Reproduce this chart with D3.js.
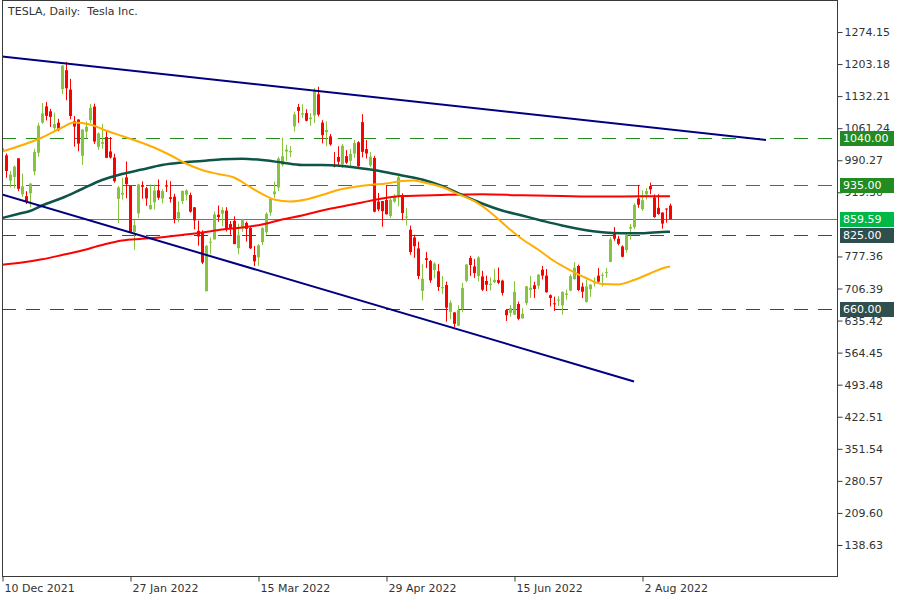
<!DOCTYPE html>
<html>
<head>
<meta charset="utf-8">
<script src="https://cdn.jsdelivr.net/npm/d3@7/dist/d3.min.js"></script>
<style>
  html, body { margin: 0; padding: 0; background: #ffffff; }
  svg { display: block; }
  text { font-family: "DejaVu Sans", sans-serif; }
</style>
</head>
<body>
<svg id="chart" width="900" height="600"></svg>
<script>
// ---------------- DATA ----------------
const title = "TESLA, Daily:  Tesla Inc.";

const dates = [
  "2021-12-10","2021-12-13","2021-12-14","2021-12-15","2021-12-16","2021-12-17","2021-12-20","2021-12-21","2021-12-22","2021-12-23",
  "2021-12-27","2021-12-28","2021-12-29","2021-12-30","2021-12-31",
  "2022-01-03","2022-01-04","2022-01-05","2022-01-06","2022-01-07","2022-01-10","2022-01-11","2022-01-12","2022-01-13","2022-01-14",
  "2022-01-18","2022-01-19","2022-01-20","2022-01-21","2022-01-24","2022-01-25","2022-01-26","2022-01-27","2022-01-28","2022-01-31",
  "2022-02-01","2022-02-02","2022-02-03","2022-02-04","2022-02-07","2022-02-08","2022-02-09","2022-02-10","2022-02-11","2022-02-14",
  "2022-02-15","2022-02-16","2022-02-17","2022-02-18","2022-02-22","2022-02-23","2022-02-24","2022-02-25","2022-02-28",
  "2022-03-01","2022-03-02","2022-03-03","2022-03-04","2022-03-07","2022-03-08","2022-03-09","2022-03-10","2022-03-11","2022-03-14",
  "2022-03-15","2022-03-16","2022-03-17","2022-03-18","2022-03-21","2022-03-22","2022-03-23","2022-03-24","2022-03-25","2022-03-28",
  "2022-03-29","2022-03-30","2022-03-31",
  "2022-04-01","2022-04-04","2022-04-05","2022-04-06","2022-04-07","2022-04-08","2022-04-11","2022-04-12","2022-04-13","2022-04-14",
  "2022-04-18","2022-04-19","2022-04-20","2022-04-21","2022-04-22","2022-04-25","2022-04-26","2022-04-27","2022-04-28","2022-04-29",
  "2022-05-02","2022-05-03","2022-05-04","2022-05-05","2022-05-06","2022-05-09","2022-05-10","2022-05-11","2022-05-12","2022-05-13",
  "2022-05-16","2022-05-17","2022-05-18","2022-05-19","2022-05-20","2022-05-23","2022-05-24","2022-05-25","2022-05-26","2022-05-27",
  "2022-05-31",
  "2022-06-01","2022-06-02","2022-06-03","2022-06-06","2022-06-07","2022-06-08","2022-06-09","2022-06-10","2022-06-13","2022-06-14",
  "2022-06-15","2022-06-16","2022-06-17","2022-06-21","2022-06-22","2022-06-23","2022-06-24","2022-06-27","2022-06-28","2022-06-29",
  "2022-06-30",
  "2022-07-01","2022-07-05","2022-07-06","2022-07-07","2022-07-08","2022-07-11","2022-07-12","2022-07-13","2022-07-14","2022-07-15",
  "2022-07-18","2022-07-19","2022-07-20","2022-07-21","2022-07-22","2022-07-25","2022-07-26","2022-07-27","2022-07-28","2022-07-29",
  "2022-08-01","2022-08-02","2022-08-03","2022-08-04","2022-08-05","2022-08-08","2022-08-09","2022-08-10","2022-08-11"
];

const open = [
  1008.8,1001.1,945.0,953.2,994.5,914.8,910.7,916.9,965.7,1006.8,
  1073.7,1109.5,1098.6,1061.3,1073.4,
  1147.8,1189.6,1146.7,1077.0,1080.4,1000.0,1053.7,1078.9,1109.1,1019.9,
  1026.6,1041.7,1009.7,996.3,904.8,914.2,952.4,933.4,831.6,872.7,
  935.2,928.2,882.0,897.2,923.8,905.5,935.0,908.4,909.6,861.6,
  900.0,914.1,913.3,886.0,834.1,830.4,700.4,809.2,815.0,
  869.7,872.1,878.8,849.1,856.3,795.5,839.5,851.5,840.2,780.6,
  775.3,809.0,831.0,874.5,915.0,930.0,979.9,1009.7,1008.0,1065.1,
  1108.0,1091.2,1094.6,
  1081.2,1089.4,1136.3,1073.5,1052.4,1043.2,980.4,997.6,981.1,999.3,
  989.0,1005.1,1030.0,1074.7,1014.9,979.0,995.4,898.6,900.0,902.3,
  867.0,898.6,912.2,909.0,865.5,836.5,819.3,795.2,701.0,773.5,
  767.2,747.4,744.5,707.0,714.0,655.0,653.5,623.9,661.4,723.3,
  773.8,
  755.2,734.0,733.1,723.0,713.9,720.3,724.9,723.8,658.5,652.6,
  648.6,672.0,640.3,674.0,703.2,713.6,712.4,748.1,735.0,691.5,
  673.5,
  681.0,669.0,692.3,701.8,727.0,756.3,710.5,676.5,704.7,720.0,
  734.8,735.0,740.4,765.3,828.7,816.7,799.5,791.5,839.1,842.1,
  905.7,882.0,915.0,933.0,908.0,885.0,874.5,883.4,889.9
];
const high = [
  1021.0,1005.0,966.4,978.8,995.0,960.7,921.7,939.5,1015.7,1073.0,
  1117.0,1119.0,1104.0,1095.6,1082.0,
  1201.1,1208.0,1170.3,1088.0,1080.9,1059.1,1075.9,1114.8,1115.6,1052.0,
  1070.8,1054.7,1041.7,1004.6,933.5,951.3,987.7,935.4,857.5,938.0,
  943.7,931.5,937.0,936.5,947.8,926.3,946.3,943.8,916.0,898.9,
  923.0,926.4,918.5,886.9,856.7,835.3,802.5,819.5,876.9,
  889.9,886.5,886.4,855.7,866.1,850.0,860.6,854.5,843.8,800.7,
  805.0,842.0,875.0,907.9,942.9,997.9,1040.7,1024.5,1021.8,1097.9,
  1114.8,1114.0,1103.1,
  1094.8,1149.9,1152.9,1079.0,1076.6,1048.4,1008.5,1021.2,1026.2,1012.7,
  1014.9,1034.9,1032.5,1092.2,1034.9,1008.6,1000.0,918.0,900.0,934.4,
  906.0,915.0,955.5,917.0,885.0,845.6,825.4,809.8,759.7,787.4,
  769.8,764.5,760.5,734.0,721.6,680.0,653.9,669.3,718.7,759.8,
  778.8,
  772.0,777.9,745.6,734.7,731.0,750.0,752.8,725.9,659.3,670.0,
  722.7,677.2,662.9,712.0,734.6,721.3,738.2,756.2,749.5,693.5,
  688.4,
  689.4,699.4,703.7,737.8,764.8,759.2,719.3,726.2,716.0,730.9,
  751.6,741.4,752.0,819.8,842.4,822.8,801.9,827.8,849.2,895.0,
  935.6,923.5,928.7,940.8,914.6,915.0,875.0,883.5,894.4
];
const low = [
  982.5,951.4,930.0,928.3,921.9,909.0,893.4,886.1,957.1,997.6,
  1070.7,1078.4,1064.1,1053.2,1054.6,
  1136.7,1123.1,1081.0,1020.5,1010.0,980.0,1038.8,1072.6,1026.5,1013.4,
  1016.1,995.0,994.0,940.5,851.5,903.2,906.0,829.0,792.0,862.1,
  905.0,889.4,880.5,881.2,902.7,894.8,920.0,896.7,850.7,853.2,
  893.4,901.2,874.1,837.6,801.1,760.6,700.0,782.4,814.7,
  853.8,844.3,832.6,825.2,804.6,782.2,832.0,810.4,793.8,756.0,
  756.6,802.3,825.7,867.4,907.1,921.8,976.4,988.8,997.3,1053.6,
  1073.1,1084.0,1076.6,
  1066.6,1072.5,1087.3,1027.7,1021.5,1022.4,974.6,976.6,973.1,982.2,
  973.4,995.3,975.5,996.4,994.0,975.3,875.0,877.4,843.1,870.0,
  862.4,896.4,888.4,857.5,846.3,781.2,774.3,727.2,680.0,751.6,
  719.1,728.9,700.8,694.1,633.0,638.1,620.6,623.0,653.7,720.5,
  734.2,
  730.0,722.0,700.8,700.9,702.2,718.0,716.0,690.8,634.4,643.8,
  648.0,636.0,639.6,669.8,685.6,685.3,705.5,726.2,697.3,666.8,
  656.7,
  667.5,648.5,681.6,700.2,726.1,700.9,685.1,675.1,688.0,710.7,
  718.8,710.9,730.5,764.6,812.1,802.3,775.5,785.4,814.6,837.6,
  885.0,878.0,903.5,915.0,863.0,869.6,838.7,852.1,859.3
];
const close = [
  1017.0,966.4,958.5,976.0,926.9,932.6,899.9,938.5,1008.9,1067.0,
  1093.9,1088.5,1086.2,1070.3,1056.8,
  1199.8,1149.6,1088.1,1064.7,1027.0,1058.1,1064.4,1106.2,1031.6,1049.6,
  1030.5,995.7,996.3,943.9,930.0,918.4,937.4,829.1,846.4,936.7,
  931.3,905.7,891.1,923.3,907.3,922.0,932.0,904.6,860.0,875.8,
  922.4,923.4,876.4,857.0,821.5,764.0,800.8,809.9,870.4,
  864.4,879.9,839.3,838.3,804.6,824.4,859.0,838.3,795.4,766.4,
  801.9,840.2,871.6,905.4,921.2,994.0,999.1,1013.9,1010.6,1091.8,
  1099.6,1094.0,1077.6,
  1084.6,1145.5,1091.3,1045.8,1057.3,1025.5,975.9,987.0,1022.4,985.0,
  1004.3,1028.2,977.2,1008.8,1005.1,998.0,876.4,881.5,877.5,870.8,
  902.9,909.3,952.6,873.3,865.7,787.1,800.0,734.0,728.0,769.6,
  724.4,761.6,709.8,709.4,663.9,674.9,628.2,658.8,707.7,759.6,
  758.3,
  740.4,775.0,703.6,714.8,716.7,725.6,719.1,696.7,647.2,662.7,
  699.0,639.3,650.3,711.1,708.3,705.2,737.1,734.8,698.0,685.5,
  673.4,
  681.8,699.2,695.2,733.6,752.3,703.0,699.2,711.1,714.9,720.2,
  721.6,736.6,742.5,815.1,816.7,805.3,776.6,824.5,842.7,891.5,
  891.8,901.8,922.2,925.9,864.5,871.3,850.0,883.1,859.6
];

// Moving averages at bar indices
const maSlowIdx = [0,10,15,18,22,26,30,34,38,42,46,50,54,58,62,65,68,72,76,80,84,88,92,96,100,103,106,110,114,118,122,126,130,134,138,142,146,150,154,158,162,165,167];
const maSlowVal = [1009.6,1040.6,1062.8,1073.8,1069.4,1056.1,1043.9,1031.8,1018.5,1001.9,983.1,968.7,959.8,952.1,931.1,915.6,903.4,899.0,903.4,913.4,924.4,931.1,935.5,938.8,944.3,945.4,939.9,931.1,915.6,900.1,875.7,844.7,816.0,792.7,767.3,747.3,729.6,716.3,715.3,725.2,739.6,750.7,755.1];

const maMidIdx = [0,4,7,10,15,20,25,30,35,40,45,50,55,60,65,70,75,80,85,90,95,100,105,110,115,120,125,130,135,140,145,150,155,160,165,167];
const maMidVal = [862.4,871.3,877.9,890.1,906.7,926.6,946.5,959.8,969.8,979.8,985.3,988.6,992.4,993.5,990.8,985.3,979.8,979.8,977.5,972.0,965.4,956.5,947.7,933.3,913.4,894.5,879.0,868.0,856.5,845.8,837.0,830.8,828.6,828.6,831.5,832.1];

const maLongIdx = [0,5,10,15,20,25,30,35,40,45,50,55,60,65,70,75,80,85,90,95,100,105,110,120,130,140,150,160,167];
const maLongVal = [759.1,763.9,771.0,780.5,790.5,802.7,812.6,816.4,819.7,824.8,830.3,837.0,841.4,848.0,859.1,868.0,879.0,887.9,896.8,905.6,911.1,912.2,913.4,914.9,912.7,911.1,910.0,910.5,910.5];

// Trend lines (bar index, price)
const upperTrendIdx = [0, 191];
const upperTrendVal = [1219.9, 1035.1];
const lowerTrendIdx = [0, 158];
const lowerTrendVal = [914.5, 500.5];

// Horizontal levels
const levelValues = [1040.00, 935.00, 825.00, 660.00];
const levelKinds  = ["res", "res", "sup", "sup"];
const lastPrice = 859.59;

// Axis ticks (848.33 is fully covered by the price boxes in the reference)
const priceTicks = [1274.15,1203.18,1132.21,1061.24,990.27,919.30,777.36,706.39,635.42,564.45,493.48,422.51,351.54,280.57,209.60,138.63];
const dateTickIdx = [0, 32, 64, 96, 128, 160];
const dateTickLabels = ["10 Dec 2021","27 Jan 2022","15 Mar 2022","29 Apr 2022","15 Jun 2022","2 Aug 2022"];

// ---------------- CHART ----------------
const svg = d3.select("#chart");
const plot = { left: 2, right: 837, top: 0, bottom: 576 };

const x = d3.scaleLinear().domain([0, 167]).range([2, 670]);
const y = d3.scaleLinear().domain([70.0, 1340.55]).range([576, 2]);

const colors = {
  up: "#86c440", down: "#ff0000",
  maSlow: "#ffae00", maMid: "#0e5548", maLong: "#ff0000",
  trend: "#000080", res: "#228b22", sup: "#2f4f4f",
  lastLine: "#22a845", lastBox: "#00b848", frame: "#3a3a3a", text: "#333333"
};

svg.append("defs").append("clipPath").attr("id", "clip")
  .append("rect").attr("x", plot.left).attr("y", plot.top)
  .attr("width", plot.right - plot.left).attr("height", plot.bottom - plot.top);

const g = svg.append("g").attr("clip-path", "url(#clip)");

// last price line
g.append("line")
  .attr("x1", plot.left).attr("x2", plot.right)
  .attr("y1", Math.round(y(lastPrice)) + 0.5).attr("y2", Math.round(y(lastPrice)) + 0.5)
  .attr("stroke", colors.lastLine).attr("stroke-width", 1);

// horizontal levels
levelValues.forEach((v, k) => {
  g.append("line")
    .attr("x1", plot.left).attr("x2", plot.right)
    .attr("y1", Math.round(y(v)) + 0.5).attr("y2", Math.round(y(v)) + 0.5)
    .attr("stroke", colors[levelKinds[k]]).attr("stroke-width", 1)
    .attr("stroke-dasharray", "14,10");
});

// candles
const bars = d3.range(dates.length).map(i => ({ i, o: open[i], h: high[i], l: low[i], c: close[i] }));
const cg = g.append("g");
bars.forEach(b => {
  const cx = Math.round(x(b.i));
  const col = b.c >= b.o ? colors.up : colors.down;
  cg.append("line")
    .attr("x1", cx + 0.5).attr("x2", cx + 0.5)
    .attr("y1", y(b.h)).attr("y2", y(b.l))
    .attr("stroke", col).attr("stroke-width", 1);
  const top = y(Math.max(b.o, b.c)), bot = y(Math.min(b.o, b.c));
  cg.append("rect")
    .attr("x", cx - 1).attr("width", 3)
    .attr("y", top).attr("height", Math.max(1, bot - top))
    .attr("fill", col);
});

// moving averages
const lineGen = d3.line().x(d => x(d[0])).y(d => y(d[1])).curve(d3.curveMonotoneX);
[[maLongIdx, maLongVal, colors.maLong, 2],
 [maMidIdx, maMidVal, colors.maMid, 2.5],
 [maSlowIdx, maSlowVal, colors.maSlow, 2]].forEach(([idx, val, col, w]) => {
  g.append("path").datum(idx.map((d, k) => [d, val[k]]))
    .attr("d", lineGen).attr("fill", "none")
    .attr("stroke", col).attr("stroke-width", w);
});

// trend lines
const straight = d3.line().x(d => x(d[0])).y(d => y(d[1]));
[[upperTrendIdx, upperTrendVal], [lowerTrendIdx, lowerTrendVal]].forEach(([idx, val]) => {
  g.append("path").datum(idx.map((d, k) => [d, val[k]]))
    .attr("d", straight).attr("fill", "none")
    .attr("stroke", colors.trend).attr("stroke-width", 2);
});

// frame
svg.append("rect")
  .attr("x", plot.left + 0.5).attr("y", plot.top + 0.5)
  .attr("width", plot.right - plot.left).attr("height", plot.bottom - plot.top)
  .attr("fill", "none").attr("stroke", colors.frame).attr("stroke-width", 1);

// right axis
const yAxis = d3.axisRight(y).tickValues(priceTicks).tickSize(5).tickPadding(2)
  .tickFormat(d3.format(".2f"));
const ya = svg.append("g").attr("transform", `translate(${plot.right + 0.5},0)`).call(yAxis);
ya.select(".domain").remove();
ya.selectAll("line").attr("stroke", colors.frame);
ya.selectAll("text").attr("fill", colors.text).style("font-size", "11px")
  .style("font-family", "DejaVu Sans, sans-serif");

// bottom axis
const xAxis = d3.axisBottom(x).tickValues(dateTickIdx).tickSize(5).tickPadding(3)
  .tickFormat((d, k) => dateTickLabels[k]);
const xa = svg.append("g").attr("transform", `translate(0,${plot.bottom + 0.5})`).call(xAxis);
xa.select(".domain").remove();
xa.selectAll("line").attr("stroke", colors.frame).attr("transform", "translate(0.5,0)");
xa.selectAll("text").attr("fill", colors.text).style("font-size", "11px")
  .style("font-family", "DejaVu Sans, sans-serif")
  .attr("text-anchor", "start").attr("dx", 2);

// price labels on the right
const labels = levelValues.map((v, k) => ({ v, fill: colors[levelKinds[k]] }))
  .concat([{ v: lastPrice, fill: colors.lastBox }]);
labels.forEach(d => {
  const yy = Math.round(y(d.v));
  svg.append("rect").attr("x", plot.right + 3).attr("y", yy - 7)
    .attr("width", 54).attr("height", 15).attr("fill", d.fill);
  svg.append("text").attr("x", plot.right + 6).attr("y", yy + 0.5)
    .attr("dominant-baseline", "middle").attr("fill", "#ffffff")
    .style("font-size", "11px").text(d3.format(".2f")(d.v));
});

// title
svg.append("text").attr("x", 8).attr("y", 12)
  .attr("dominant-baseline", "middle").attr("fill", colors.text)
  .style("font-size", "11px").style("white-space", "pre")
  .attr("xml:space", "preserve").text(title);
</script>
</body>
</html>
